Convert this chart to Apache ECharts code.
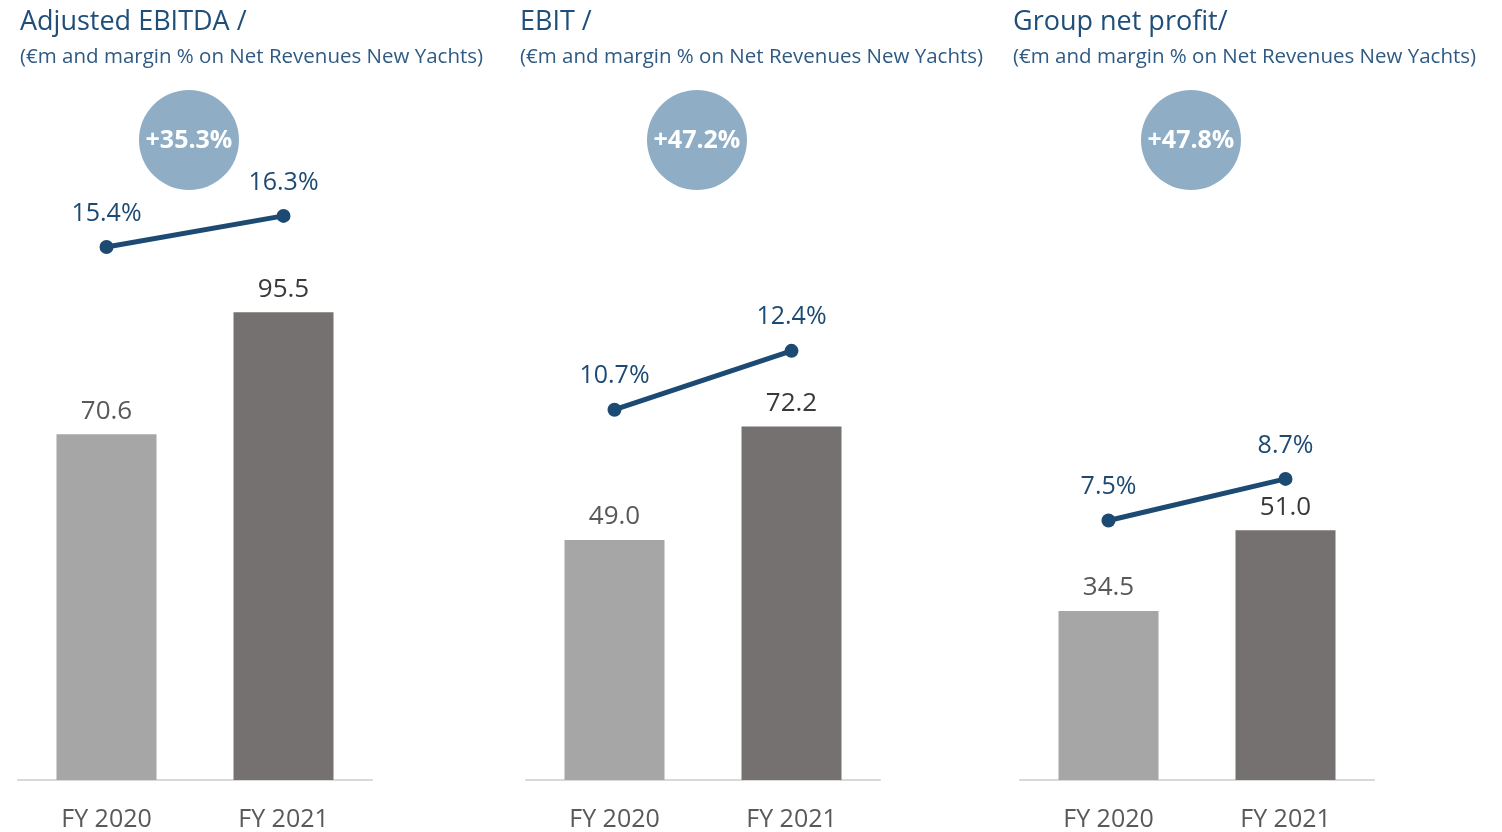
<!DOCTYPE html>
<html><head><meta charset="utf-8">
<script src="https://cdn.jsdelivr.net/npm/echarts@6/dist/echarts.min.js"></script>
<style>html,body{margin:0;padding:0;background:#fff;}#c{width:1502px;height:832px;}</style>
</head><body><div id="c"></div>
<script>
const categories = ['FY 2020', 'FY 2021'];
const panelTitles = ['Adjusted EBITDA /', 'EBIT /', 'Group net profit/'];
const subtitle = '(€m and margin % on Net Revenues New Yachts)';
const ebitda = [70.6, 95.5];
const ebitdaMargin = [15.4, 16.3];
const ebit = [49.0, 72.2];
const ebitMargin = [10.7, 12.4];
const netProfit = [34.5, 51.0];
const netProfitMargin = [7.5, 8.7];
const growth = ['+35.3%', '+47.2%', '+47.8%'];

const values = [ebitda, ebit, netProfit];
const margins = [ebitdaMargin, ebitMargin, netProfitMargin];

const gridLefts = [18, 526, 1020];
const titleLefts = [15, 515, 1008];
const gridW = 354, gridTop = 92, gridH = 690;
const FONT = '"Open Sans", "Noto Sans", sans-serif';
const barColors = ['#a6a6a6', '#767171'];
const barLabelColors = ['#595959', '#3b3838'];
const navy = '#1c4a72';

const grids = [], xAxes = [], yAxes = [], series = [], titles = [], graphics = [];
for (let i = 0; i < 3; i++) {
  grids.push({left: gridLefts[i], top: gridTop, width: gridW, height: gridH});
  titles.push({
    text: panelTitles[i], subtext: subtitle, left: titleLefts[i], top: 4, itemGap: 11,
    textStyle: {fontFamily: FONT, fontSize: 27, fontWeight: 'normal', color: '#1f4e79'},
    subtextStyle: {fontFamily: FONT, fontSize: 20.5, color: '#2e5a84'}
  });
  xAxes.push({
    type: 'category', gridIndex: i, data: categories,
    axisLine: {lineStyle: {color: '#d9d9d9', width: 2}},
    axisTick: {show: false},
    axisLabel: {fontFamily: FONT, fontSize: 25, color: '#595959', margin: 27}
  });
  yAxes.push({type: 'value', gridIndex: i, min: 0, max: 140.5, show: false, splitLine: {show: false}});
  yAxes.push({type: 'value', gridIndex: i, min: 0, max: 19.88, show: false, splitLine: {show: false}});
  series.push({
    type: 'bar', xAxisIndex: i, yAxisIndex: 2 * i, barWidth: 100,
    data: values[i].map((v, k) => ({
      value: v,
      itemStyle: {color: barColors[k]},
      label: {color: barLabelColors[k]}
    })),
    label: {show: true, position: 'top', distance: 10, fontFamily: FONT, fontSize: 26,
      formatter: p => p.value.toFixed(1)},
    silent: true, animation: false
  });
  series.push({
    type: 'line', xAxisIndex: i, yAxisIndex: 2 * i + 1, data: margins[i],
    symbol: 'circle', symbolSize: 14,
    lineStyle: {color: navy, width: 5}, itemStyle: {color: navy},
    label: {show: true, position: 'top', distance: 14, fontFamily: FONT, fontSize: 25, color: navy,
      formatter: p => p.value.toFixed(1) + '%'},
    silent: true, animation: false, z: 5
  });
}

const chart = echarts.init(document.getElementById('c'), null, {renderer: 'canvas'});
chart.setOption({
  backgroundColor: '#fff', animation: false,
  title: titles, grid: grids, xAxis: xAxes, yAxis: yAxes, series: series
});
for (let i = 0; i < 3; i++) {
  const cx = gridLefts[i] + gridW * 0.483;
  graphics.push({
    type: 'circle', shape: {cx: cx, cy: 140, r: 50},
    style: {fill: '#8faec6'}, silent: true
  });
  graphics.push({
    type: 'text', x: cx, y: 141,
    style: {text: growth[i], fill: '#fff', font: 'bold 25px ' + FONT, align: 'center', verticalAlign: 'middle'},
    silent: true, z: 10
  });
}
chart.setOption({graphic: graphics});
</script></body></html>
